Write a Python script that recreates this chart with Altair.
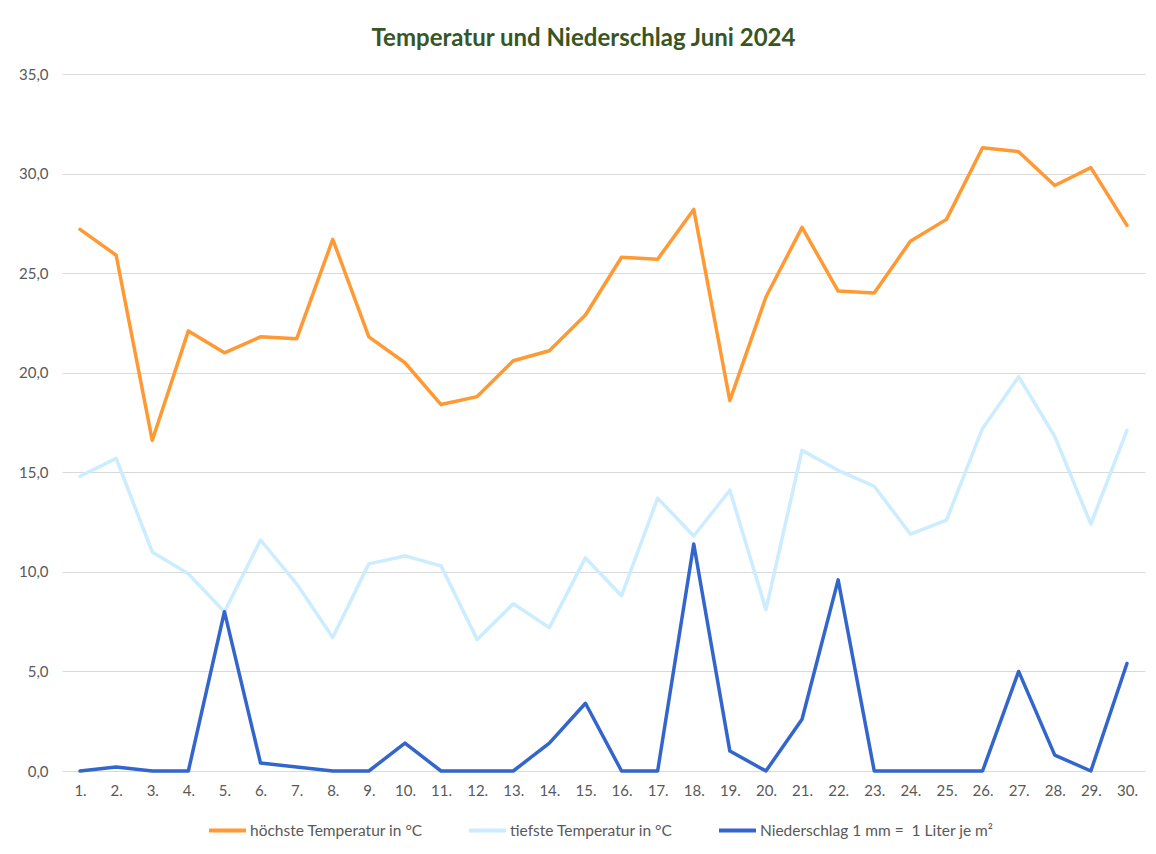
import altair as alt
import pandas as pd

days = [f"{i}." for i in range(1, 31)]
hoch = [27.2, 25.9, 16.6, 22.1, 21.0, 21.8, 21.7, 26.7, 21.8, 20.5,
        18.4, 18.8, 20.6, 21.1, 22.9, 25.8, 25.7, 28.2, 18.6, 23.8,
        27.3, 24.1, 24.0, 26.6, 27.7, 31.3, 31.1, 29.4, 30.3, 27.4]
tief = [14.8, 15.7, 11.0, 9.9, 8.0, 11.6, 9.4, 6.7, 10.4, 10.8,
        10.3, 6.6, 8.4, 7.2, 10.7, 8.8, 13.7, 11.8, 14.1, 8.1,
        16.1, 15.1, 14.3, 11.9, 12.6, 17.2, 19.8, 16.8, 12.4, 17.1]
regen = [0.0, 0.2, 0.0, 0.0, 8.0, 0.4, 0.2, 0.0, 0.0, 1.4,
         0.0, 0.0, 0.0, 1.4, 3.4, 0.0, 0.0, 11.4, 1.0, 0.0,
         2.6, 9.6, 0.0, 0.0, 0.0, 0.0, 5.0, 0.8, 0.0, 5.4]
series = ["höchste Temperatur in °C", "tiefste Temperatur in °C",
          "Niederschlag 1 mm = \u00a01 Liter je m²"]
colors = ["#FF9933", "#CCECFF", "#3366CC"]

rows = []
for name, vals in zip(series, [hoch, tief, regen]):
    for d, v in zip(days, vals):
        rows.append({"Tag": d, "Wert": v, "Reihe": name})
df = pd.DataFrame(rows)

FONT = "Lato, 'Open Sans', sans-serif"

chart = alt.Chart(df).mark_line(strokeWidth=3.5, strokeJoin="round", strokeCap="round").encode(
    x=alt.X("Tag:N", sort=days, scale=alt.Scale(paddingInner=1, paddingOuter=0.5),
            axis=alt.Axis(title=None, labelAngle=0, ticks=False, domain=False,
                          labelColor="#595959", labelFontSize=15, labelPadding=12,
                          labelFont=FONT)),
    y=alt.Y("Wert:Q", scale=alt.Scale(domain=[0, 35], nice=False),
            axis=alt.Axis(title=None, values=[0, 5, 10, 15, 20, 25, 30, 35],
                          labelExpr="replace(format(datum.value, '.1f'), '.', ',')",
                          ticks=False, domain=False, gridColor="#D9D9D9",
                          labelColor="#595959", labelFontSize=15, labelPadding=14,
                          labelFont=FONT)),
    color=alt.Color("Reihe:N", sort=series,
                    scale=alt.Scale(domain=series, range=colors),
                    legend=alt.Legend(title=None, orient="none", direction="horizontal",
                                      legendX=145, legendY=736, symbolType="stroke",
                                      symbolSize=1369, symbolStrokeWidth=4,
                                      labelColor="#595959", labelFontSize=15.5,
                                      labelFont=FONT, labelOffset=2, labelLimit=500,
                                      columnPadding=38)),
    order=alt.Order("Reihe:N"),
).properties(
    width=1083, height=697,
    title=alt.TitleParams("Temperatur und Niederschlag Juni 2024", fontSize=24,
                          fontWeight="bold", color="#375623", font=FONT,
                          offset=16, dx=-20),
    autosize=alt.AutoSizeParams(type="none"),
    padding={"left": 54, "top": 66, "right": 3, "bottom": 70},
).configure_view(stroke=None).configure_axisX(grid=False)

chart.save("out.html", embed_options={"renderer": "svg", "actions": False})
